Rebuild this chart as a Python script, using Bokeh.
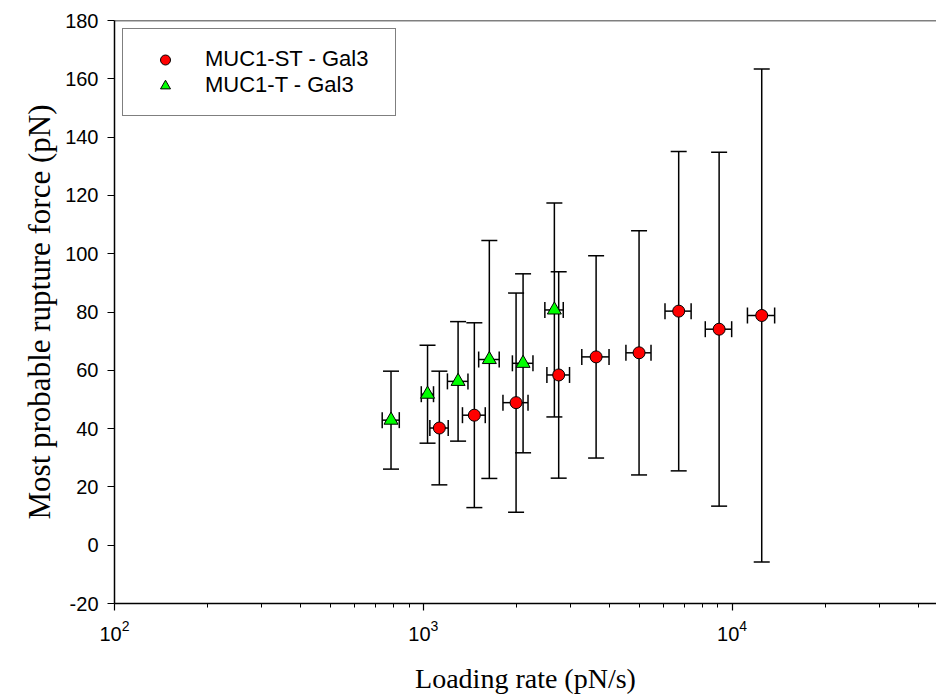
from bokeh.plotting import figure
from bokeh.models import (ColumnDataSource, Whisker, TeeHead, FixedTicker, Span,
                          Legend, LegendItem)
from bokeh.embed import file_html
from bokeh.resources import INLINE

# MUC1-ST - Gal3 (red circles)
st_rate = [1127, 1463, 1997, 2744, 3627, 4996, 6714, 9076, 12470]
st_rate_err = [77, 124, 186, 231, 367, 466, 652, 890, 1260]
st_force = [40.2, 44.6, 48.9, 58.4, 64.6, 66.0, 80.3, 74.1, 78.8]
st_force_err = [19.5, 31.7, 37.6, 35.4, 34.7, 41.9, 54.8, 60.7, 84.6]

# MUC1-T - Gal3 (green triangles)
t_rate = [786, 1032, 1296, 1636, 2104, 2657]
t_rate_err = [50, 47, 99, 125, 161, 182]
t_force = [42.9, 51.8, 56.2, 63.7, 62.4, 80.7]
t_force_err = [16.8, 16.8, 20.5, 40.8, 30.7, 36.7]

y_ticks = [-20, 0, 20, 40, 60, 80, 100, 120, 140, 160, 180]
x_major = [100, 1000, 10000]
x_minor = [m * d for d in (100, 1000, 10000) for m in range(2, 10) if m * d < 46000]


def make_source(x, xe, y, ye):
    return ColumnDataSource(dict(
        x=x, y=y,
        xl=[a - b for a, b in zip(x, xe)], xu=[a + b for a, b in zip(x, xe)],
        yl=[a - b for a, b in zip(y, ye)], yu=[a + b for a, b in zip(y, ye)],
    ))


src_st = make_source(st_rate, st_rate_err, st_force, st_force_err)
src_t = make_source(t_rate, t_rate_err, t_force, t_force_err)

p = figure(width=936, height=696, x_axis_type="log",
           x_range=(100, 45900), y_range=(-20, 180),
           output_backend="svg", toolbar_location=None,
           min_border_left=114, min_border_right=0,
           min_border_top=20, min_border_bottom=93)
p.outline_line_color = None
p.grid.visible = False
p.background_fill_color = "white"
p.border_fill_color = "white"

p.add_layout(Span(location=180, dimension="width", line_color="black", line_width=1.5))

for src in (src_st, src_t):
    for dim, base, lo, up in (("height", "x", "yl", "yu"), ("width", "y", "xl", "xu")):
        w = Whisker(source=src, base=base, lower=lo, upper=up, dimension=dim,
                    line_color="black", line_width=1.5, level="underlay",
                    upper_head=TeeHead(size=16, line_color="black", line_width=1.5),
                    lower_head=TeeHead(size=16, line_color="black", line_width=1.5))
        p.add_layout(w)

r_st = p.scatter("x", "y", source=src_st, marker="circle", size=12,
                 fill_color="#FF0000", line_color="black", line_width=1)
r_t = p.scatter("x", "y", source=src_t, marker="triangle", size=14,
                fill_color="#00FF00", line_color="black", line_width=1)

# axes
for ax in (p.xaxis[0], p.yaxis[0]):
    ax.axis_line_color = "black"
    ax.axis_line_width = 1.5
    ax.major_tick_line_color = "black"
    ax.major_tick_line_width = 1.2
    ax.major_tick_in = 0
    ax.major_tick_out = 7
    ax.major_label_text_font = "Liberation Sans"
    ax.major_label_text_font_size = "20px"
    ax.major_label_text_color = "black"
    ax.axis_label_text_font = "Liberation Serif"
    ax.axis_label_text_font_style = "normal"
    ax.axis_label_text_color = "black"

p.xaxis.ticker = FixedTicker(ticks=x_major, minor_ticks=x_minor)
p.xaxis.minor_tick_line_color = "black"
p.xaxis.minor_tick_line_width = 1
p.xaxis.minor_tick_in = 0
p.xaxis.minor_tick_out = 4
p.xaxis.major_label_standoff = 9
p.xaxis.axis_label = "Loading rate (pN/s)"
p.xaxis.axis_label_text_font_size = "28px"
p.xaxis.axis_label_standoff = 19

p.yaxis.ticker = FixedTicker(ticks=y_ticks)
p.yaxis.major_label_overrides = {-20: "-20"}
p.yaxis.minor_tick_line_color = None
p.yaxis.major_label_standoff = 9
p.yaxis.axis_label = "Most probable rupture force (pN)"
p.yaxis.axis_label_text_font_size = "31px"
p.yaxis.axis_label_standoff = 5

legend = Legend(items=[LegendItem(label="MUC1-ST - Gal3", renderers=[r_st]),
                       LegendItem(label="MUC1-T - Gal3", renderers=[r_t])],
                location="top_left")
legend.border_line_color = "black"
legend.border_line_width = 1.5
legend.background_fill_color = "white"
legend.background_fill_alpha = 1
legend.label_text_font = "Liberation Sans"
legend.label_text_font_size = "22px"
legend.label_text_color = "black"
legend.padding = 17
legend.margin = 8
legend.spacing = 0
legend.glyph_width = 50
legend.glyph_height = 25
legend.label_height = 25
legend.label_width = 173
legend.label_standoff = 15
p.add_layout(legend)

open("out.html", "w").write(file_html(p, INLINE))
